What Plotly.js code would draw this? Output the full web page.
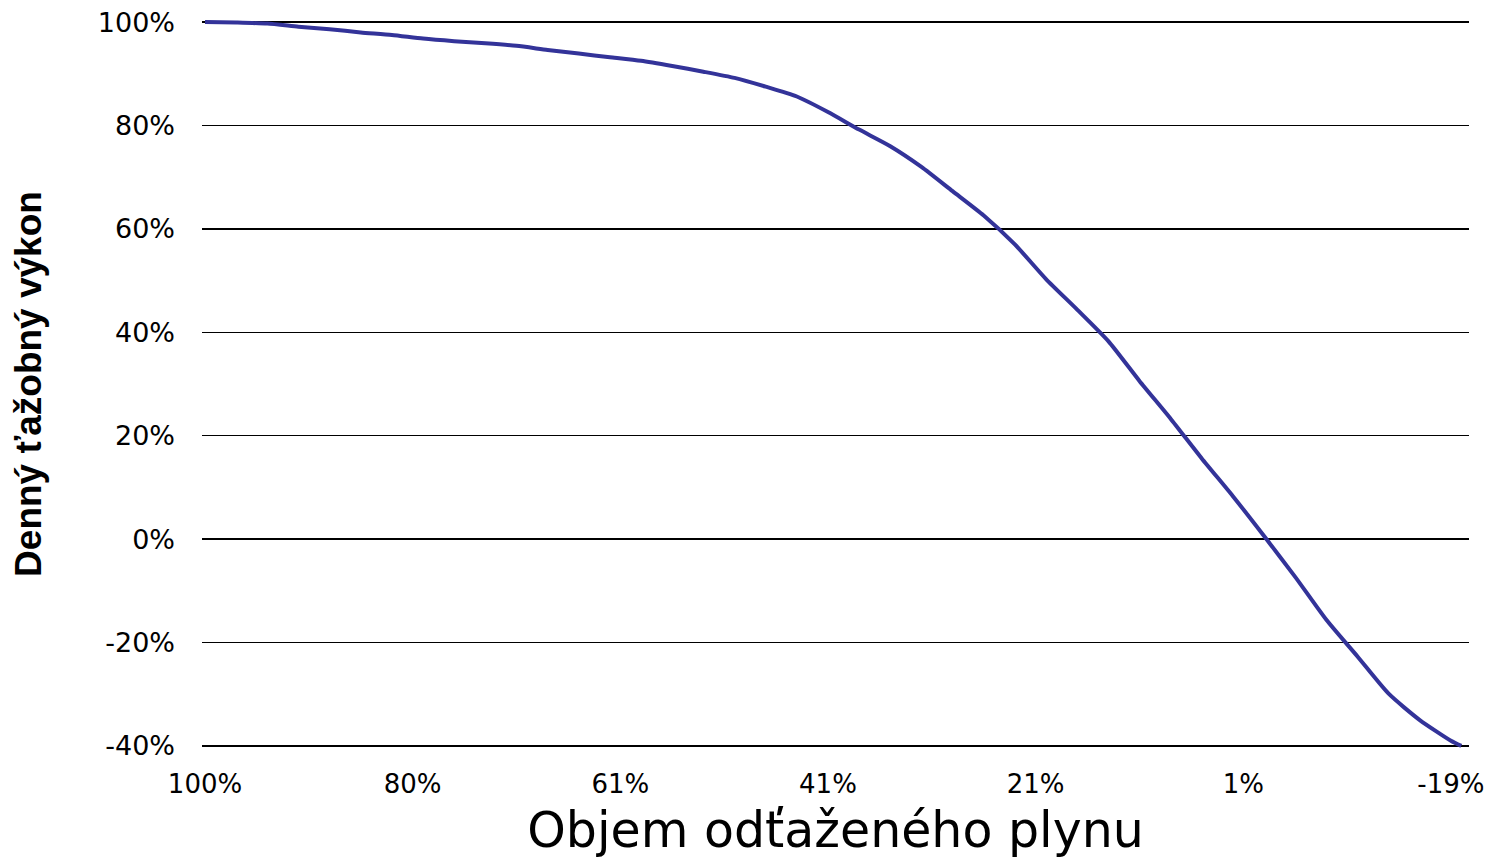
<!DOCTYPE html>
<html>
<head>
<meta charset="utf-8">
<script src="https://cdn.plot.ly/plotly-3.0.1.min.js"></script>
<style>
  html, body { margin: 0; padding: 0; background: #ffffff; }
  #chart { width: 1501px; height: 859px; }
</style>
</head>
<body>
<div id="chart"></div>
<script>
// Category position of each sampled point along the x axis (0 = first category "100%")
const pointIndex = [0, 3, 6, 9, 12, 15, 18, 21, 24, 27, 30, 33, 36, 39, 42, 45, 48, 51, 54, 57,
                    60, 63, 66, 69, 72, 75, 78, 81, 84, 87, 90, 93, 96, 99, 102, 105, 108, 111,
                    114, 117, 120, 121];
// Denný ťažobný výkon (%)
const dailyOutput = [100, 99.9, 99.7, 99.1, 98.6, 98.0, 97.5, 96.8, 96.3, 95.9, 95.4, 94.6, 93.9,
                     93.2, 92.5, 91.5, 90.4, 89.2, 87.5, 85.6, 82.6, 79.2, 76.0, 72.0, 67.3, 62.6,
                     57.0, 50.3, 44.4, 38.3, 30.6, 23.3, 15.6, 8.3, 0.6, -7.3, -15.6, -22.7, -29.9,
                     -35.0, -39.0, -40.0];
// x tick labels (Objem odťaženého plynu)
const xTickPos = [0, 20, 40, 60, 80, 100, 120];
const xTickText = ['100%', '80%', '61%', '41%', '21%', '1%', '-19%'];
// y tick labels
const yTickVals = [-40, -20, 0, 20, 40, 60, 80, 100];
const yTickText = ['-40%', '-20%', '0%', '20%', '40%', '60%', '80%', '100%'];

const trace = {
  x: pointIndex,
  y: dailyOutput,
  type: 'scatter',
  mode: 'lines',
  line: { color: '#333399', width: 4, shape: 'spline', smoothing: 0.6 },
  hoverinfo: 'skip'
};

const layout = {
  width: 1501,
  height: 859,
  paper_bgcolor: '#ffffff',
  plot_bgcolor: '#ffffff',
  showlegend: false,
  margin: { l: 202, r: 32, t: 20, b: 111 },
  font: { family: 'Liberation Sans, Arial, sans-serif', color: '#000000' },
  xaxis: {
    range: [-0.29, 121.74],
    tickmode: 'array',
    tickvals: xTickPos,
    ticktext: xTickText,
    showgrid: false,
    zeroline: false,
    showline: false,
    ticks: '',
    ticklabelstandoff: 18,
    tickfont: { family: 'DejaVu Sans, sans-serif', size: 26, color: '#000000' },
    title: {
      text: 'Objem odťaženého plynu',
      font: { family: 'DejaVu Sans, sans-serif', size: 49, color: '#000000' },
      standoff: 24
    },
    automargin: false
  },
  yaxis: {
    range: [-40.4, 100.4],
    tickmode: 'array',
    tickvals: yTickVals,
    ticktext: yTickText,
    showgrid: true,
    gridcolor: '#000000',
    gridwidth: 1.5,
    zeroline: false,
    showline: false,
    ticks: '',
    ticklabelstandoff: 26,
    tickfont: { family: 'DejaVu Sans, sans-serif', size: 27, color: '#000000' },
    title: {
      text: 'Denný ťažobný výkon',
      font: { family: 'Liberation Sans, Arial, sans-serif', size: 37, color: '#000000', weight: 'bold' },
      standoff: 44
    },
    automargin: false
  }
};

Plotly.newPlot('chart', [trace], layout, { staticPlot: true, displayModeBar: false });
</script>
</body>
</html>
